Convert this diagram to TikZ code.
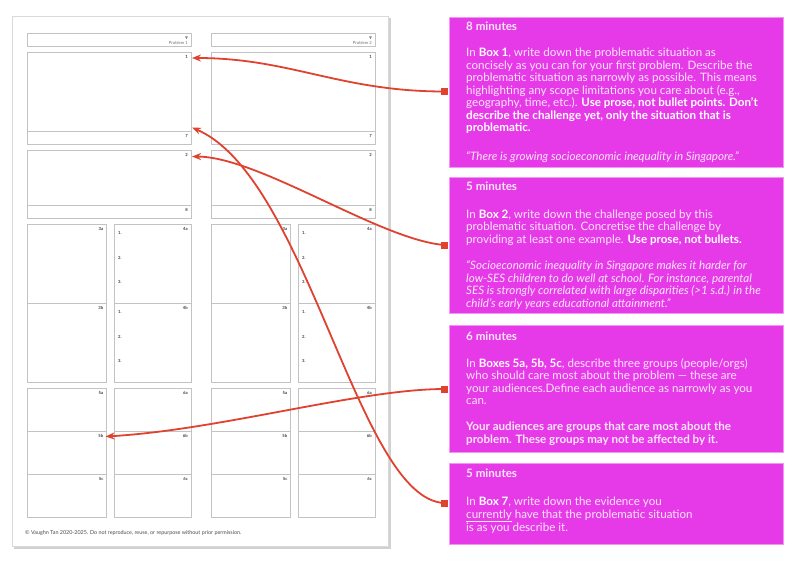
\documentclass[tikz,border=0pt]{standalone}
\usepackage{fontspec}
\setmainfont{Lato}
\usetikzlibrary{arrows.meta}
\definecolor{mag}{RGB}{230,58,232}
\definecolor{magline}{RGB}{242,150,242}
\definecolor{txt}{RGB}{252,230,252}
\definecolor{arr}{RGB}{224,66,48}
\definecolor{boxline}{RGB}{195,195,195}
\newcommand\wsbox[6]{%
  \node[wbox,minimum width={(#4)-(#2)},minimum height={(#5)-(#3)}] (#1) at (#2,#3) {};
  \node[num] (#1-n) at ([xshift=-3.5pt,yshift=-3pt]#1.north east) {#6};}
\newcommand\hb[1]{{\bfseries\color{white}#1}}
\newcommand\cardfont{\fontsize{11.6}{12.5}\selectfont}
\begin{document}
\begin{tikzpicture}[x=1pt,y=-1pt,
  wbox/.style={draw=boxline,line width=1pt,inner sep=0pt,anchor=north west},
  num/.style={font=\fontsize{4.2}{4.2}\selectfont\bfseries,text=black!75,inner sep=0pt,anchor=north east},
  lst/.style={font=\fontsize{4.2}{4.2}\selectfont\bfseries,text=black!75,inner sep=0pt,anchor=west},
  card/.style={fill=mag,draw=magline,line width=0.6pt,inner sep=0pt,anchor=north west},
  head/.style={font=\cardfont\bfseries,text=txt,inner sep=0pt,anchor=north west},
  body/.style={font=\cardfont,text=txt,inner sep=0pt,anchor=north west,align=left},
  link/.style={draw=arr,line width=1.8pt,-{Stealth[length=9pt,width=7pt]}},
  startsq/.style={fill=arr,inner sep=0pt,minimum size=7pt}
]
\useasboundingbox (0,0) rectangle (800,560);
\fill[white] (0,0) rectangle (800,560);
% page
\fill[black!18] (14,18) rectangle (390.5,548.5);
\draw[fill=white,draw=black!15,line width=0.8pt] (12,16) rectangle (388,546);
% worksheet boxes, left problem
\wsbox{p9}{26.5}{33}{190.5}{46}{9}
\node[num,font=\fontsize{4.2}{4.2}\selectfont,text=black!55] (p9t) at ([xshift=-3.5pt,yshift=-8.5pt]p9.north east) {Problem 1};
\wsbox{p1}{26.5}{52}{190.5}{131}{1}
\wsbox{p7}{26.5}{131}{190.5}{144}{7}
\wsbox{p2}{26.5}{150}{190.5}{205}{2}
\wsbox{p8}{26.5}{205}{190.5}{218}{8}
\wsbox{p3a}{26.5}{224}{106}{303}{3a}
\wsbox{p3b}{26.5}{303}{106}{382}{3b}
\wsbox{p4a}{114}{224}{190.5}{303}{4a}
\wsbox{p4b}{114}{303}{190.5}{382}{4b}
\wsbox{p5a}{26.5}{388}{106}{431}{5a}
\wsbox{p5b}{26.5}{431}{106}{474}{5b}
\wsbox{p5c}{26.5}{474}{106}{517}{5c}
\wsbox{p6a}{114}{388}{190.5}{431}{6a}
\wsbox{p6b}{114}{431}{190.5}{474}{6b}
\wsbox{p6c}{114}{474}{190.5}{517}{6c}
\node[lst] (pa1) at (118,233) {1.};
\node[lst] (pa2) at (118,258) {2.};
\node[lst] (pa3) at (118,282) {3.};
\node[lst] (pb1) at (118,312) {1.};
\node[lst] (pb2) at (118,337) {2.};
\node[lst] (pb3) at (118,361) {3.};
% worksheet boxes, right problem
\wsbox{q9}{210.5}{33}{374.5}{46}{9}
\node[num,font=\fontsize{4.2}{4.2}\selectfont,text=black!55] (q9t) at ([xshift=-3.5pt,yshift=-8.5pt]q9.north east) {Problem 2};
\wsbox{q1}{210.5}{52}{374.5}{131}{1}
\wsbox{q7}{210.5}{131}{374.5}{144}{7}
\wsbox{q2}{210.5}{150}{374.5}{205}{2}
\wsbox{q8}{210.5}{205}{374.5}{218}{8}
\wsbox{q3a}{210.5}{224}{290}{303}{3a}
\wsbox{q3b}{210.5}{303}{290}{382}{3b}
\wsbox{q4a}{298}{224}{374.5}{303}{4a}
\wsbox{q4b}{298}{303}{374.5}{382}{4b}
\wsbox{q5a}{210.5}{388}{290}{431}{5a}
\wsbox{q5b}{210.5}{431}{290}{474}{5b}
\wsbox{q5c}{210.5}{474}{290}{517}{5c}
\wsbox{q6a}{298}{388}{374.5}{431}{6a}
\wsbox{q6b}{298}{431}{374.5}{474}{6b}
\wsbox{q6c}{298}{474}{374.5}{517}{6c}
\node[lst] (qa1) at (302,233) {1.};
\node[lst] (qa2) at (302,258) {2.};
\node[lst] (qa3) at (302,282) {3.};
\node[lst] (qb1) at (302,312) {1.};
\node[lst] (qb2) at (302,337) {2.};
\node[lst] (qb3) at (302,361) {3.};
\node[lst,font=\fontsize{5.4}{5.4}\selectfont,text=black!70] (foot) at (25,533) {© Vaughn Tan 2020-2025. Do not reproduce, reuse, or repurpose without prior permission.};
% start markers
\node[startsq] (m1) at (444.5,91.5) {};
\node[startsq] (m2) at (444.5,245) {};
\node[startsq] (m3) at (444.5,389) {};
\node[startsq] (m4) at (444.5,503) {};
% cards
\node[card,minimum width=334,minimum height=150] (c1) at (449,17) {};
\node[card,minimum width=334,minimum height=136] (c2) at (449,177) {};
\node[card,minimum width=334,minimum height=127] (c3) at (449,325) {};
\node[card,minimum width=334,minimum height=81] (c4) at (449,463) {};
\node[head] (h1) at (466,22) {8 minutes};
\node[body] (t1) at (466,48) {In \hb{Box 1}, write down the problematic situation as\\
concisely as you can for your first problem. Describe the\\
problematic situation as narrowly as possible. This means\\
highlighting any scope limitations you care about (e.g.,\\
geography, time, etc.). \hb{Use prose, not bullet points. Don’t}\\
\hb{describe the challenge yet, only the situation that is}\\
\hb{problematic.}};
\node[body,font=\cardfont\itshape] (u1) at (466,151) {“There is growing socioeconomic inequality in Singapore.”};
\node[head] (h2) at (466,182) {5 minutes};
\node[body] (t2) at (466,209.5) {In \hb{Box 2}, write down the challenge posed by this\\
problematic situation. Concretise the challenge by\\
providing at least one example. \hb{Use prose, not bullets.}};
\node[body,font=\cardfont\itshape] (u2) at (466,260.5) {“Socioeconomic inequality in Singapore makes it harder for\\
low-SES children to do well at school. For instance, parental\\
SES is strongly correlated with large disparities (>1 s.d.) in the\\
child’s early years educational attainment.”};
\node[head] (h3) at (466,331.5) {6 minutes};
\node[body] (t3) at (466,358) {In \hb{Boxes 5a, 5b, 5c}, describe three groups (people/orgs)\\
who should care most about the problem — these are\\
your audiences.Define each audience as narrowly as you\\
can.};
\node[body,font=\cardfont\bfseries] (u3) at (466,422) {Your audiences are groups that care most about the\\
problem. These groups may not be affected by it.};
\node[head] (h4) at (466,468.5) {5 minutes};
\node[body] (t4) at (466,497) {In \hb{Box 7}, write down the evidence you\\
\underline{currently} have that the problematic situation\\
is as you describe it.};
% arrow targets
\coordinate (e1) at (192,58);
\coordinate (e7) at (192,127.5);
\coordinate (e2) at (192,156.5);
\coordinate (e5) at (105.5,436.5);
% connectors
\draw[link] (m1.center) .. controls (340,91.5) and (290,58) .. (e1);
\draw[link] (m2.center) .. controls (380,240) and (260,157) .. (e2);
\draw[link] (m3.center) .. controls (360,389) and (220,430) .. (e5);
\draw[link] (m4.center) .. controls (358,500) and (308,178) .. (e7);
\end{tikzpicture}
\end{document}
